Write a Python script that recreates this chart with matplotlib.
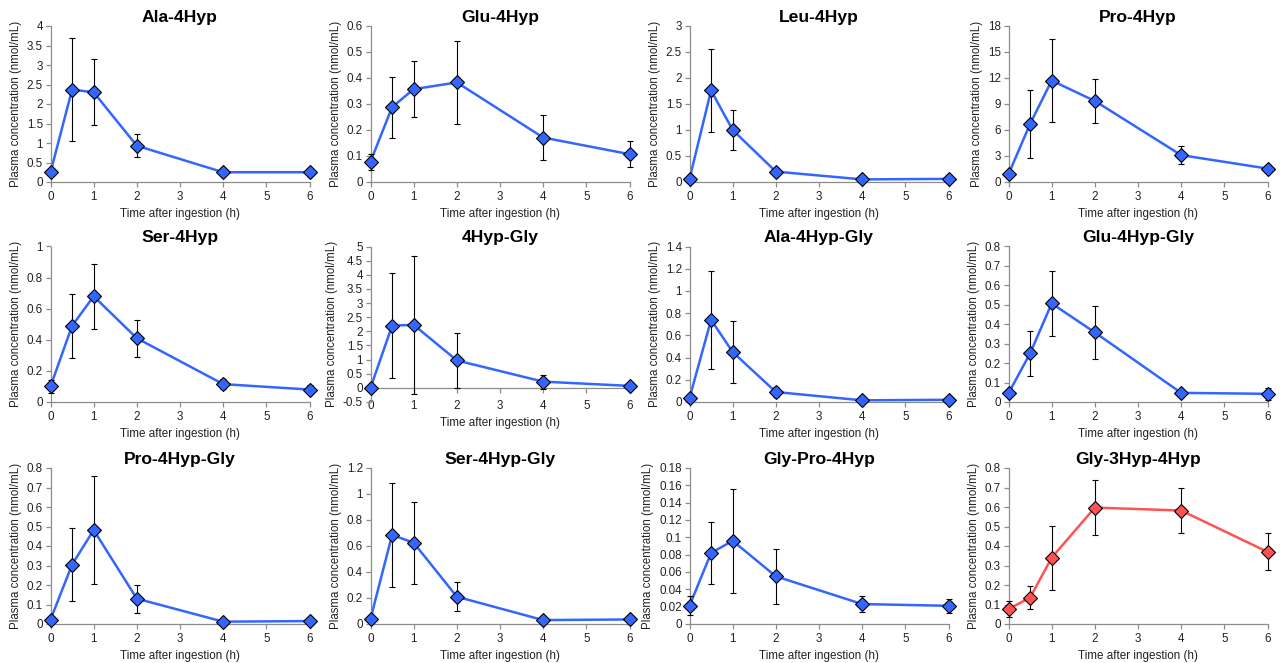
import numpy as np
import matplotlib
matplotlib.use("Agg")
import matplotlib.pyplot as plt
from matplotlib.ticker import FuncFormatter, MultipleLocator

plt.rcParams['font.family'] = ['Liberation Sans', 'DejaVu Sans']
plt.rcParams['axes.unicode_minus'] = False

time_h = [0, 0.5, 1, 2, 4, 6]

names = ["Ala-4Hyp", "Glu-4Hyp", "Leu-4Hyp", "Pro-4Hyp",
         "Ser-4Hyp", "4Hyp-Gly", "Ala-4Hyp-Gly", "Glu-4Hyp-Gly",
         "Pro-4Hyp-Gly", "Ser-4Hyp-Gly", "Gly-Pro-4Hyp", "Gly-3Hyp-4Hyp"]

ala_4hyp = [0.25, 2.37, 2.30, 0.93, 0.25, 0.25]
ala_4hyp_sd = [0.05, 1.31, 0.85, 0.30, 0.03, 0.10]
glu_4hyp = [0.078, 0.288, 0.357, 0.383, 0.171, 0.107]
glu_4hyp_sd = [0.030, 0.117, 0.108, 0.160, 0.087, 0.051]
leu_4hyp = [0.06, 1.76, 1.00, 0.20, 0.05, 0.06]
leu_4hyp_sd = [0.02, 0.80, 0.38, 0.03, 0.01, 0.02]
pro_4hyp = [0.9, 6.7, 11.7, 9.35, 3.1, 1.55]
pro_4hyp_sd = [0.3, 3.9, 4.75, 2.55, 1.0, 0.45]
ser_4hyp = [0.10, 0.49, 0.68, 0.41, 0.115, 0.08]
ser_4hyp_sd = [0.04, 0.205, 0.21, 0.12, 0.03, 0.03]
hyp_gly = [0.0, 2.20, 2.23, 0.97, 0.22, 0.07]
hyp_gly_sd = [0.02, 1.85, 2.45, 0.98, 0.25, 0.05]
ala_hyp_gly = [0.035, 0.74, 0.45, 0.09, 0.015, 0.02]
ala_hyp_gly_sd = [0.01, 0.44, 0.28, 0.045, 0.005, 0.005]
glu_hyp_gly = [0.045, 0.25, 0.507, 0.358, 0.047, 0.042]
glu_hyp_gly_sd = [0.01, 0.115, 0.168, 0.137, 0.01, 0.03]
pro_hyp_gly = [0.022, 0.305, 0.482, 0.13, 0.012, 0.015]
pro_hyp_gly_sd = [0.01, 0.187, 0.275, 0.072, 0.003, 0.005]
ser_hyp_gly = [0.04, 0.685, 0.625, 0.21, 0.03, 0.035]
ser_hyp_gly_sd = [0.01, 0.40, 0.315, 0.11, 0.005, 0.005]
gly_pro_hyp = [0.021, 0.082, 0.096, 0.055, 0.023, 0.021]
gly_pro_hyp_sd = [0.011, 0.036, 0.060, 0.032, 0.009, 0.008]
gly_3hyp_4hyp = [0.077, 0.135, 0.34, 0.597, 0.582, 0.37]
gly_3hyp_4hyp_sd = [0.04, 0.06, 0.165, 0.14, 0.115, 0.095]

means = [ala_4hyp, glu_4hyp, leu_4hyp, pro_4hyp, ser_4hyp, hyp_gly,
         ala_hyp_gly, glu_hyp_gly, pro_hyp_gly, ser_hyp_gly, gly_pro_hyp, gly_3hyp_4hyp]
sds = [ala_4hyp_sd, glu_4hyp_sd, leu_4hyp_sd, pro_4hyp_sd, ser_4hyp_sd, hyp_gly_sd,
       ala_hyp_gly_sd, glu_hyp_gly_sd, pro_hyp_gly_sd, ser_hyp_gly_sd, gly_pro_hyp_sd, gly_3hyp_4hyp_sd]

# (ymin, ymax, step)
y_ranges = [(0, 4, 0.5), (0, 0.6, 0.1), (0, 3, 0.5), (0, 18, 3),
            (0, 1, 0.2), (-0.5, 5, 0.5), (0, 1.4, 0.2), (0, 0.8, 0.1),
            (0, 0.8, 0.1), (0, 1.2, 0.2), (0, 0.18, 0.02), (0, 0.8, 0.1)]

blue = '#3366ff'
red = '#ff5252'
grey = '#8c8c8c'
txt = '#222222'

W, H = 1280, 663
fig = plt.figure(figsize=(W / 100, H / 100), dpi=100)

col_left = [50.5, 370.5, 689.5, 1008.5]
ax_w = 259
row_top = [26, 246.5, 468]
row_bot = [182, 402, 624]

fmt = FuncFormatter(lambda v, p: ('%g' % round(v, 6)))

for i, name in enumerate(names):
    r, c = divmod(i, 4)
    left = col_left[c] / W
    bottom = 1 - row_bot[r] / H
    height = (row_bot[r] - row_top[r]) / H
    ax = fig.add_axes([left, bottom, ax_w / W, height])

    color = red if i == 11 else blue
    ax.plot(time_h, means[i], color=color, lw=1.8, zorder=2, clip_on=False)
    ax.errorbar(time_h, means[i], yerr=sds[i], fmt='none', ecolor='black',
                elinewidth=0.8, capsize=2.5, capthick=0.8, zorder=3, clip_on=False)
    ax.plot(time_h, means[i], ls='none', marker='D', ms=6.8, mfc=color,
            mec='black', mew=0.8, zorder=4, clip_on=False)

    ymin, ymax, step = y_ranges[i]
    ax.set_xlim(0, 6)
    ax.set_ylim(ymin, ymax)
    ax.yaxis.set_major_locator(MultipleLocator(step))
    ax.xaxis.set_major_locator(MultipleLocator(1))
    ax.yaxis.set_major_formatter(fmt)

    for s in ['top', 'right']:
        ax.spines[s].set_visible(False)
    for s in ['left', 'bottom']:
        ax.spines[s].set_color(grey)
        ax.spines[s].set_linewidth(0.9)
    ax.tick_params(axis='both', colors=grey, labelcolor=txt, labelsize=8.4,
                   length=3.5, width=0.9, direction='out')
    ax.tick_params(axis='y', pad=2)
    ax.tick_params(axis='x', pad=3)

    if ymin < 0:
        ax.spines['bottom'].set_position(('data', 0))
        ax.tick_params(axis='x', pad=5)

    ax.set_title(name, fontsize=12.6, fontweight='bold', pad=3)
    ax.set_xlabel('Time after ingestion (h)', fontsize=8.4, color=txt, labelpad=3.5)
    ax.set_ylabel('Plasma concentration (nmol/mL)', fontsize=8.3, color=txt, labelpad=3.5)

fig.savefig('out.png', dpi=100)
